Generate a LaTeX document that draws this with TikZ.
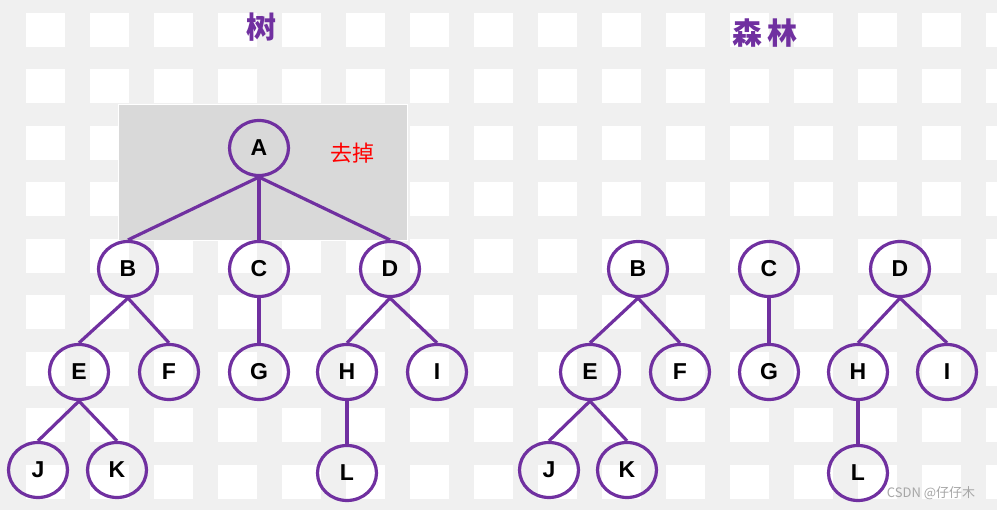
\documentclass[tikz,border=0pt]{standalone}
\usepackage{fontspec}
\usetikzlibrary{shapes.geometric}
\newfontfamily\cjk{Noto Sans CJK SC}
\newfontfamily\lsans{Liberation Sans}
\begin{document}
\begin{tikzpicture}[x=1pt,y=-1pt,
  nd/.style={draw=pur,line width=3.2pt,ellipse,minimum width=59pt,minimum height=55pt,inner sep=0pt,font=\lsans\bfseries\fontsize{23}{23}\selectfont,fill=none},
  ed/.style={draw=pur,line width=3.2pt}]
\definecolor{pur}{HTML}{7030A0}
\useasboundingbox (0,0) rectangle (997,510);
\fill[gray!12] (0,0) rectangle (997,510);
\foreach \i in {0,...,15}{\foreach \j in {0,...,8}{
  \fill[white] ({26+64*\i},{13+56.5*\j}) rectangle ++(39,34);}}
\fill[gray!30] (118,105) rectangle (407,241);
\draw[white,line width=1pt] (118,105) rectangle (407,241);
\node[text=pur,font=\cjk\bfseries\fontsize{30}{30}\selectfont] (t1) at (261,27) {树};
\node[text=pur,font=\cjk\bfseries\fontsize{30}{30}\selectfont] (t2) at (765,33) {森\,林};
\node[text=red,font=\cjk\fontsize{22}{22}\selectfont] (qd) at (352,153) {去掉};
\node[text=gray!70,font=\cjk\fontsize{13}{13}\selectfont] (wm) at (931,493) {CSDN @仔仔木};
\node[nd] (A) at (259,148) {A};
\node[nd] (B) at (128,269) {B};
\node[nd] (C) at (259,269) {C};
\node[nd] (D) at (390,269) {D};
\node[nd] (E) at (79,372) {E};
\node[nd] (F) at (169,372) {F};
\node[nd] (G) at (259,372) {G};
\node[nd] (H) at (347,372) {H};
\node[nd] (I) at (437,372) {I};
\node[nd] (J) at (38,470) {J};
\node[nd] (K) at (117,470) {K};
\node[nd] (L) at (347,473) {L};
\node[nd] (B2) at (638,269) {B};
\node[nd] (C2) at (769,269) {C};
\node[nd] (D2) at (900,269) {D};
\node[nd] (E2) at (590,372) {E};
\node[nd] (F2) at (680,372) {F};
\node[nd] (G2) at (769,372) {G};
\node[nd] (H2) at (858,372) {H};
\node[nd] (I2) at (947,372) {I};
\node[nd] (J2) at (549,470) {J};
\node[nd] (K2) at (627,470) {K};
\node[nd] (L2) at (858,473) {L};
\foreach \a/\b in {A/B,A/C,A/D,B/E,B/F,C/G,D/H,D/I,E/J,E/K,H/L,B2/E2,B2/F2,C2/G2,D2/H2,D2/I2,E2/J2,E2/K2,H2/L2}
  \draw[ed] (\a.south) -- (\b.north);
\end{tikzpicture}
\end{document}
